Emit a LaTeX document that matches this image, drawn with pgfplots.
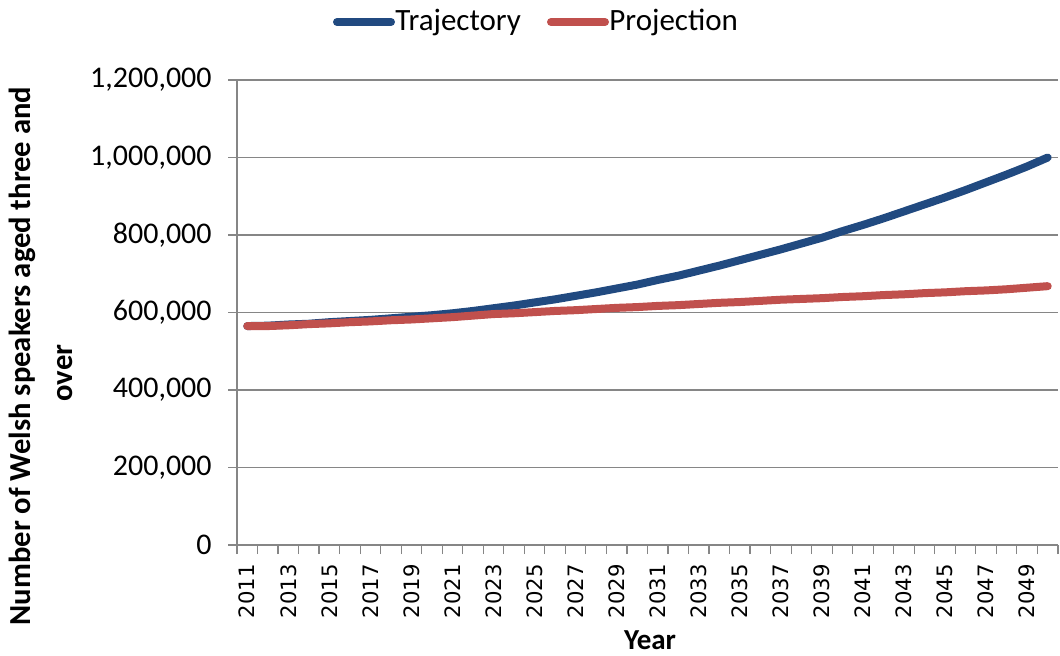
\documentclass[border=0pt]{standalone}
\usepackage{fontspec}
\setmainfont{Carlito}
\newfontfamily\tickfont{DejaVu Sans}
\usepackage{pgfplots}
\pgfplotsset{compat=1.18}
\definecolor{trajblue}{RGB}{33,74,128}
\definecolor{projred}{RGB}{192,80,77}
\definecolor{gridgray}{RGB}{134,134,134}
\begin{document}
\begin{tikzpicture}
\useasboundingbox (-118.5pt,-55pt) rectangle (411.5pt,272.5pt);
\begin{axis}[
  at={(0pt,0pt)}, anchor=south west,
  scale only axis, width=410.5pt, height=232.5pt,
  xmin=2010.5, xmax=2050.5, ymin=0, ymax=1200000,
  axis lines=left, axis line style={gridgray, line width=0.6pt, -},
  xtick={2011,2013,...,2049},
  minor xtick={2010.5,2011.5,...,2050.5},
  major x tick style={draw=none},
  minor x tick style={gridgray, line width=0.6pt},
  ytick={0,200000,...,1200000},
  y tick style={gridgray, line width=0.6pt},
  tick align=outside, major tick length=4.5pt, minor tick length=4.5pt,
  ymajorgrids, grid style={gridgray, line width=0.6pt},
  scaled y ticks=false,
  /pgf/number format/assume math mode=true,
  yticklabel={\pgfmathprintnumber[fixed, precision=0, 1000 sep={,}]{\tick}},
  xticklabel={\pgfmathprintnumber[fixed, precision=0, 1000 sep={}]{\tick}},
  yticklabel style={font=\fontsize{15pt}{17pt}\selectfont, inner sep=0pt, xshift=-8pt},
  xticklabel style={font=\tickfont\fontsize{10.6pt}{12pt}\selectfont, rotate=90, anchor=east, inner sep=0pt, xshift=-5pt},
  clip=false,
]
\addplot[trajblue, line width=4pt, line cap=round] coordinates {
(2011,565000)(2012,566000)(2013,569000)(2014,571000)(2015,575000)(2016,578000)(2017,581000)(2018,585000)(2019,589000)(2020,593000)
(2021,598000)(2022,604000)(2023,611000)(2024,618000)(2025,626000)(2026,634000)(2027,643000)(2028,652000)(2029,662000)(2030,672000)
(2031,684000)(2032,695000)(2033,708000)(2034,721000)(2035,735000)(2036,749000)(2037,763000)(2038,778000)(2039,793000)(2040,810000)
(2041,826000)(2042,843000)(2043,861000)(2044,879000)(2045,897000)(2046,916000)(2047,936000)(2048,956000)(2049,977000)(2050,1000000)
};
\addplot[projred, line width=4pt, line cap=round] coordinates {
(2011,565000)(2012,565000)(2013,567000)(2014,570000)(2015,572000)(2016,575000)(2017,577000)(2018,580000)(2019,582000)(2020,585000)
(2021,588000)(2022,592000)(2023,596000)(2024,598000)(2025,601000)(2026,604000)(2027,606000)(2028,609000)(2029,612000)(2030,614000)
(2031,617000)(2032,619000)(2033,622000)(2034,625000)(2035,627000)(2036,630000)(2037,633000)(2038,635000)(2039,637000)(2040,640000)
(2041,642000)(2042,645000)(2043,647000)(2044,650000)(2045,652000)(2046,655000)(2047,657000)(2048,660000)(2049,664000)(2050,668000)
};
\end{axis}
% legend
\begin{scope}[font=\fontsize{15.5pt}{17pt}\selectfont]
\draw[trajblue, line width=4pt, line cap=round] (50pt,261.5pt) -- (77pt,261.5pt);
\node[anchor=west, inner sep=0pt] at (79pt,261.5pt) {Trajectory};
\draw[projred, line width=4pt, line cap=round] (157pt,261.5pt) -- (184pt,261.5pt);
\node[anchor=west, inner sep=0pt] at (186pt,261.5pt) {Projection};
\end{scope}
% axis titles
\node[font=\bfseries\fontsize{15.3pt}{17pt}\selectfont, rotate=90, inner sep=0pt] at (-107.5pt,94.5pt) {Number of Welsh speakers aged three and};
\node[font=\bfseries\fontsize{15.3pt}{17pt}\selectfont, rotate=90, inner sep=0pt] at (-86pt,86pt) {over};
\node[font=\bfseries\fontsize{14.5pt}{16pt}\selectfont, inner sep=0pt] at (206.5pt,-47.5pt) {Year};
\end{tikzpicture}
\end{document}
